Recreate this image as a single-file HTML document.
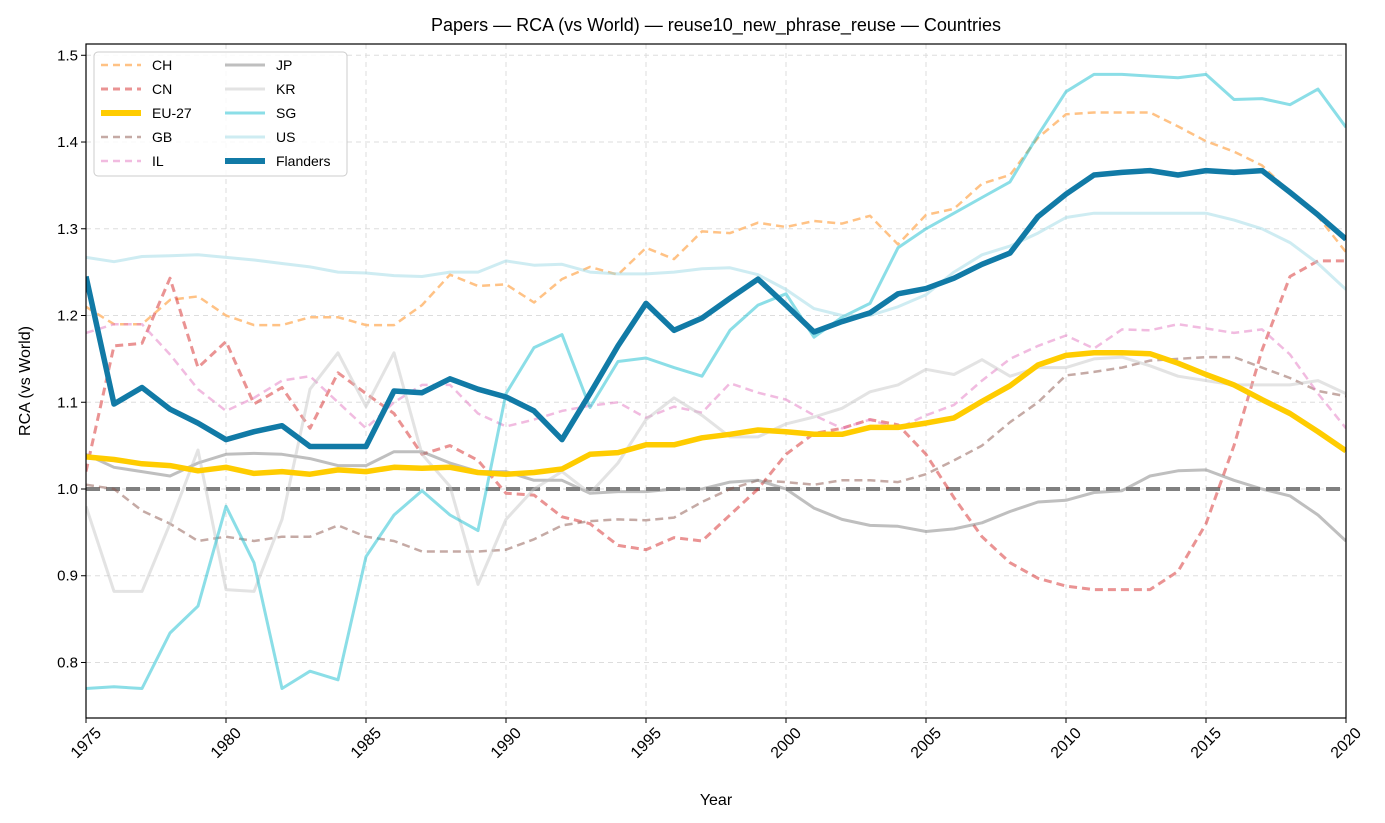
<!DOCTYPE html>
<html><head><meta charset="utf-8"><style>
body{margin:0;background:#fff;}
svg{display:block;font-family:"Liberation Sans","DejaVu Sans",sans-serif;}
</style></head><body>
<svg id="chart" width="1385" height="823" viewBox="0 0 1385 823"></svg>
<script>
const years=[];for(let y=1975;y<=2020;y++)years.push(y);
const xTicks=[1975,1980,1985,1990,1995,2000,2005,2010,2015,2020];
const yTicks=[0.8,0.9,1.0,1.1,1.2,1.3,1.4,1.5];
const CH=[1.21,1.19,1.19,1.218,1.222,1.2,1.189,1.189,1.198,1.198,1.189,1.189,1.212,1.247,1.234,1.236,1.215,1.242,1.256,1.247,1.278,1.265,1.297,1.295,1.307,1.302,1.309,1.306,1.315,1.282,1.316,1.323,1.352,1.362,1.405,1.432,1.434,1.434,1.434,1.418,1.401,1.389,1.373,1.342,1.314,1.273];
const CN=[1.02,1.165,1.168,1.243,1.14,1.17,1.098,1.117,1.07,1.134,1.11,1.087,1.04,1.05,1.033,0.995,0.993,0.968,0.96,0.935,0.93,0.944,0.94,0.97,1.0,1.04,1.064,1.07,1.08,1.074,1.04,0.99,0.945,0.915,0.897,0.888,0.884,0.884,0.884,0.905,0.96,1.05,1.16,1.245,1.263,1.263];
const EU=[1.037,1.034,1.029,1.027,1.021,1.025,1.018,1.020,1.017,1.022,1.020,1.025,1.024,1.025,1.019,1.017,1.019,1.023,1.040,1.042,1.051,1.051,1.059,1.063,1.068,1.066,1.063,1.063,1.071,1.071,1.076,1.082,1.101,1.119,1.143,1.154,1.157,1.157,1.156,1.145,1.132,1.120,1.103,1.087,1.066,1.044];
const GB=[1.005,1.0,0.975,0.96,0.94,0.945,0.94,0.945,0.945,0.958,0.945,0.94,0.928,0.928,0.928,0.93,0.942,0.958,0.963,0.965,0.964,0.967,0.985,1.0,1.01,1.008,1.005,1.01,1.01,1.008,1.017,1.033,1.05,1.077,1.1,1.131,1.135,1.14,1.148,1.15,1.152,1.152,1.14,1.128,1.113,1.107];
const IL=[1.18,1.19,1.19,1.155,1.115,1.09,1.105,1.125,1.13,1.1,1.07,1.1,1.12,1.12,1.087,1.072,1.08,1.09,1.096,1.1,1.082,1.095,1.088,1.122,1.111,1.103,1.085,1.07,1.08,1.07,1.085,1.097,1.125,1.15,1.165,1.177,1.162,1.184,1.183,1.19,1.185,1.18,1.184,1.155,1.11,1.07];
const JP=[1.04,1.025,1.02,1.015,1.03,1.04,1.041,1.04,1.035,1.027,1.027,1.043,1.043,1.03,1.02,1.02,1.01,1.01,0.995,0.997,0.997,1.0,1.0,1.008,1.01,1.0,0.978,0.965,0.958,0.957,0.951,0.954,0.961,0.974,0.985,0.987,0.996,0.998,1.015,1.021,1.022,1.01,1.0,0.992,0.97,0.94];
const KR=[0.98,0.882,0.882,0.96,1.045,0.884,0.882,0.965,1.115,1.157,1.095,1.157,1.04,1.003,0.89,0.965,1.0,1.02,0.995,1.03,1.08,1.105,1.085,1.06,1.06,1.075,1.083,1.093,1.112,1.12,1.138,1.132,1.149,1.13,1.14,1.14,1.15,1.152,1.142,1.13,1.125,1.12,1.12,1.12,1.125,1.11];
const SG=[0.77,0.772,0.77,0.834,0.865,0.98,0.915,0.77,0.79,0.78,0.922,0.97,0.998,0.97,0.952,1.11,1.163,1.178,1.094,1.147,1.151,1.14,1.13,1.183,1.212,1.225,1.175,1.198,1.214,1.278,1.3,1.318,1.336,1.354,1.408,1.458,1.478,1.478,1.476,1.474,1.478,1.449,1.45,1.443,1.461,1.417];
const US=[1.267,1.262,1.268,1.269,1.27,1.267,1.264,1.26,1.256,1.25,1.249,1.246,1.245,1.25,1.25,1.263,1.258,1.259,1.25,1.248,1.248,1.25,1.254,1.255,1.247,1.23,1.208,1.2,1.2,1.21,1.224,1.25,1.27,1.28,1.295,1.313,1.318,1.318,1.318,1.318,1.318,1.31,1.3,1.284,1.26,1.23];
const FL=[1.245,1.098,1.117,1.092,1.076,1.057,1.066,1.073,1.049,1.049,1.049,1.113,1.111,1.127,1.115,1.106,1.090,1.057,1.110,1.165,1.214,1.183,1.197,1.220,1.242,1.212,1.181,1.193,1.203,1.225,1.231,1.243,1.259,1.272,1.314,1.340,1.362,1.365,1.367,1.362,1.367,1.365,1.367,1.342,1.316,1.288];

const NS='http://www.w3.org/2000/svg';
const svg=document.getElementById('chart');
const L=86,R=1346,T=44,B=718,x0=1975,x1=2020,y0=0.736,y1=1.513;
const X=v=>L+(v-x0)/(x1-x0)*(R-L);
const Y=v=>B-(v-y0)/(y1-y0)*(B-T);
function el(tag,attrs,parent){const e=document.createElementNS(NS,tag);for(const k in attrs)e.setAttribute(k,attrs[k]);(parent||svg).appendChild(e);return e;}
const clip=el('clipPath',{id:'pc'});el('rect',{x:L,y:T,width:R-L,height:B-T},clip);
xTicks.forEach(t=>{const g=el('line',{x1:X(t),x2:X(t),y1:T,y2:B,stroke:'#ddd','stroke-dasharray':'5,4','stroke-width':1});

});
yTicks.forEach(t=>{const g=el('line',{x1:L,x2:R,y1:Y(t),y2:Y(t),stroke:'#ddd','stroke-dasharray':'5,4','stroke-width':1});

});
const series=[
 ['CH',CH,'#ffbb78',0.9,2.5,'8,5'],
 ['CN',CN,'#d62728',0.5,3,'8,5'],
 ['GB',GB,'#8c564b',0.5,2.5,'8,5'],
 ['IL',IL,'#e377c2',0.5,2.5,'8,5'],
 ['JP',JP,'#7f7f7f',0.5,3,null],
 ['KR',KR,'#c7c7c7',0.5,3,null],
 ['SG',SG,'#17becf',0.5,3,null],
 ['US',US,'#9edae5',0.5,3,null],
];
const g=el('g',{'clip-path':'url(#pc)'});
const ref=el('line',{x1:L,x2:R,y1:Y(1),y2:Y(1),stroke:'#808080','stroke-width':4,'stroke-dasharray':'14,6'},g);


function path(vals){return vals.map((v,i)=>(i?'L':'M')+X(years[i]).toFixed(1)+','+Y(v).toFixed(1)).join(' ');}
series.forEach(s=>{const p=el('path',{d:path(s[1]),fill:'none',stroke:s[2],'stroke-opacity':s[3],'stroke-width':s[4],'stroke-linejoin':'round'},g);
if(s[5])p.setAttribute('stroke-dasharray',s[5]);

});
const pe=el('path',{d:path(EU),fill:'none',stroke:'#ffcc00','stroke-width':5.5,'stroke-linejoin':'round'},g);


const pf=el('path',{d:path(FL),fill:'none',stroke:'#117aa6','stroke-width':5.5,'stroke-linejoin':'round'},g);


el('rect',{x:L,y:T,width:R-L,height:B-T,fill:'none',stroke:'#000','stroke-width':1.2});
xTicks.forEach(t=>{el('line',{x1:X(t),x2:X(t),y1:B,y2:B+5,stroke:'#000'});
const cx=X(t),cy=B+25;
const tx=el('text',{x:cx,y:cy+5,'font-size':16,'text-anchor':'middle',transform:`rotate(-45 ${cx} ${cy})`});tx.textContent=t;

});
yTicks.forEach(t=>{el('line',{x1:L-5,x2:L,y1:Y(t),y2:Y(t),stroke:'#000'});
const tx=el('text',{x:L-8,y:Y(t)+5,'font-size':15,'text-anchor':'end'});tx.textContent=t.toFixed(1);

});
const title=el('text',{x:716,y:31,'font-size':18,'text-anchor':'middle'});title.textContent='Papers — RCA (vs World) — reuse10_new_phrase_reuse — Countries';


const xl=el('text',{x:716,y:805,'font-size':16,'text-anchor':'middle'});xl.textContent='Year';


const yl=el('text',{x:30,y:381,'font-size':16,'text-anchor':'middle',transform:'rotate(-90 30 381)'});yl.textContent='RCA (vs World)';


const lg=el('g',{});


el('rect',{x:94,y:52,width:253,height:124,rx:4,fill:'#fff','fill-opacity':0.85,stroke:'#ccc'},lg);
const items=[['CH','#ffbb78',0.9,2.5,'7,5'],['CN','#d62728',0.5,3,'7,5'],['EU-27','#ffcc00',1,6,null],['GB','#8c564b',0.5,2.5,'7,5'],['IL','#e377c2',0.5,2.5,'7,5'],
['JP','#7f7f7f',0.5,3,null],['KR','#c7c7c7',0.5,3,null],['SG','#17becf',0.5,3,null],['US','#9edae5',0.5,3,null],['Flanders','#117aa6',1,6,null]];
items.forEach((it,i)=>{const col=i<5?0:1,row=i%5;const lx=col?225:101,ly=65+row*24;
const ln=el('line',{x1:lx,x2:lx+40,y1:ly,y2:ly,stroke:it[1],'stroke-opacity':it[2],'stroke-width':it[3]},lg);
if(it[4])ln.setAttribute('stroke-dasharray',it[4]);
const tx=el('text',{x:lx+51,y:ly+5,'font-size':14},lg);tx.textContent=it[0];

});
</script>
</body></html>
